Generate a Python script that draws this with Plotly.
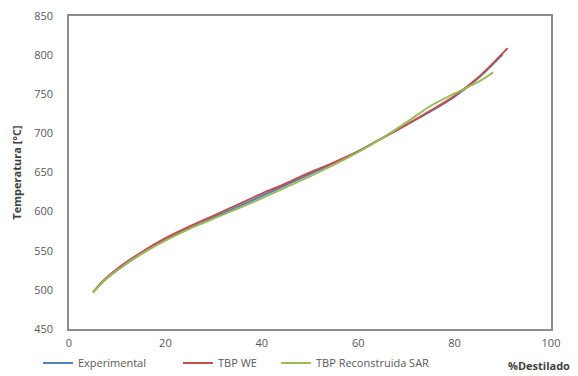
import plotly.graph_objects as go

# % destilado (x) and temperatura in °C (y) for each curve
exp_x = [5, 7, 10, 15, 20, 25, 30, 35, 40, 45, 50, 55, 60, 65, 70, 75, 80, 85, 90]
exp_y = [497, 510, 525, 546, 564, 579, 593, 606, 620, 634, 648, 662, 677, 694, 711, 728, 747, 771, 801]

we_x = [5, 7, 10, 15, 20, 25, 30, 35, 40, 45, 50, 55, 60, 65, 70, 75, 80, 85, 91]
we_y = [497, 511, 527, 548, 566, 581, 595, 609, 623, 636, 650, 663, 677, 694, 711, 729, 748, 772, 809]

sar_x = [5, 7, 10, 15, 20, 25, 30, 35, 40, 45, 50, 55, 60, 65, 70, 75, 80, 85, 88]
sar_y = [497, 510, 525, 546, 563, 578, 591, 604, 617, 631, 645, 660, 676, 694, 714, 735, 751, 766, 778]

series = [
    ("Experimental", exp_x, exp_y, "#4F81BD", "legend"),
    ("TBP WE", we_x, we_y, "#C0504D", "legend2"),
    ("TBP Reconstruida SAR", sar_x, sar_y, "#9BBB59", "legend3"),
]

font_family = "Open Sans, Liberation Sans, Arial, sans-serif"
W, H = 578, 376
ML, MR, MT, MB = 69, 27, 16, 47
PW, PH = W - ML - MR, H - MT - MB

fig = go.Figure()
for name, xs, ys, color, leg in series:
    fig.add_trace(go.Scatter(
        x=xs, y=ys, mode="lines", name=name, legend=leg,
        line=dict(color=color, width=2, shape="spline", smoothing=0.8),
    ))


def legend_box(left_px):
    # one legend per series, placed in the strip under the axis
    return dict(
        x=(left_px - ML) / PW, xanchor="left",
        y=-(363 - (H - MB)) / PH, yanchor="middle",
        font=dict(size=11, color="#595959"),
        bgcolor="rgba(0,0,0,0)", borderwidth=0,
    )


fig.update_layout(
    width=W, height=H,
    margin=dict(l=ML, r=MR, t=MT, b=MB, autoexpand=False),
    paper_bgcolor="white", plot_bgcolor="white",
    font=dict(family=font_family, size=11, color="#595959"),
    showlegend=True,
    legend=legend_box(38),
    legend2=legend_box(178),
    legend3=legend_box(276),
    xaxis=dict(
        range=[0, 100], tickvals=[0, 20, 40, 60, 80, 100],
        showgrid=False, zeroline=False, showline=True,
        linecolor="#8c8c8c", linewidth=1.5, mirror=True,
        ticks="", tickfont=dict(size=11, color="#595959"),
        ticklabelstandoff=3,
    ),
    yaxis=dict(
        range=[450, 850], tickvals=[450, 500, 550, 600, 650, 700, 750, 800, 850],
        showgrid=False, zeroline=False, showline=True,
        linecolor="#8c8c8c", linewidth=1.5, mirror=True,
        ticks="", tickfont=dict(size=11, color="#595959"),
        ticklabelstandoff=12,
        title=dict(text="<b>Temperatura [°C]</b>", standoff=10,
                   font=dict(size=11, color="#404040")),
    ),
)

fig.add_annotation(
    text="<b>%Destilado</b>", xref="paper", yref="paper",
    x=(572 - ML) / PW, y=-(356 - (H - MB)) / PH, xanchor="right", yanchor="top",
    showarrow=False, font=dict(size=11, color="#404040"),
)

fig.write_html("out.html")
